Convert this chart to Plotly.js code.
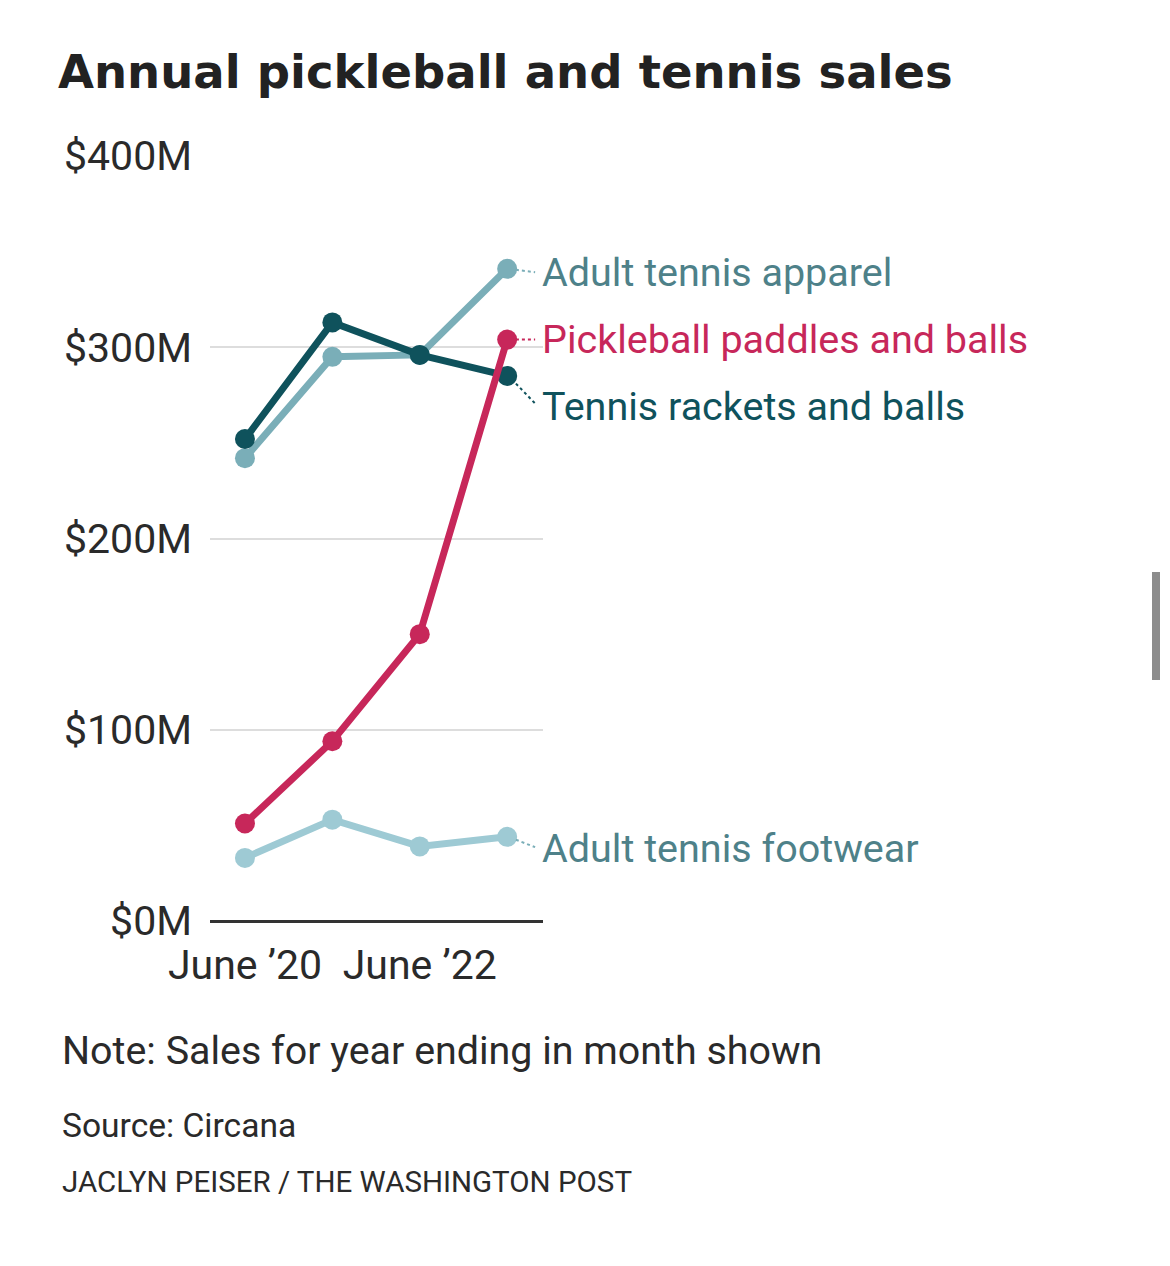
<!DOCTYPE html>
<html>
<head>
<meta charset="utf-8">
<script src="https://cdn.plot.ly/plotly-3.0.1.min.js"></script>
<style>
html,body{margin:0;padding:0;background:#fff;}
#chart{width:1170px;height:1266px;}
</style>
</head>
<body>
<div id="chart"></div>
<script>
const periods = ["June ’20", "June ’21", "June ’22", "June ’23"];
const tickLabels = ["June ’20", "June ’22"];
const yTicks = [0, 100, 200, 300, 400];

const seriesNames = ["Adult tennis footwear", "Adult tennis apparel", "Tennis rackets and balls", "Pickleball paddles and balls"];
const footwear = [33, 53, 39, 44];
const apparel = [242, 295, 296, 341];
const rackets = [252, 313, 296, 285];
const pickleball = [51, 94, 150, 304];

const lineColors = ["#9ecad4", "#7aaeb8", "#0f525c", "#c7275a"];
const leaderColors = ["#7aaeb8", "#7aaeb8", "#0f525c", "#c7275a"];
const labelColors = ["#4e8189", "#4e8189", "#0f525c", "#c7275a"];
const labelY = [38, 339, 269, 304];

const values = [footwear, apparel, rackets, pickleball];

const traces = values.map((v, i) => ({
  type: "scatter",
  mode: "lines+markers",
  x: periods,
  y: v,
  name: seriesNames[i],
  line: {color: lineColors[i], width: 7},
  marker: {color: lineColors[i], size: 20},
  hoverinfo: "skip"
}));

const textFont = "Roboto, sans-serif";
const last = periods.length - 1;
const annotations = values.map((v, i) => ({
  xref: "x", yref: "y",
  x: 3.41, y: labelY[i], xshift: -3,
  text: seriesNames[i],
  showarrow: false,
  xanchor: "left", yanchor: "middle",
  font: {family: textFont, size: 39.5, color: labelColors[i]}
}));

const shapes = values.map((v, i) => ({
  type: "line",
  xref: "x", yref: "y",
  x0: 3.1, y0: v[last] + (labelY[i] - v[last]) * 0.25,
  x1: 3.32, y1: labelY[i] - (labelY[i] - v[last]) * 0.1,
  line: {color: leaderColors[i], width: 2, dash: "dot"}
}));

shapes.push({
  type: "rect", xref: "paper", yref: "paper",
  x0: (1152 - 210) / 333, x1: (1160 - 210) / 333,
  y0: (921 - 680) / 765, y1: (921 - 572) / 765,
  fillcolor: "#8c8c8c", line: {width: 0}
});

annotations.push(
  {xref: "paper", yref: "paper", x: (60 - 210) / 333, y: (921 - 1050) / 765, xanchor: "left", yanchor: "middle",
   text: "Note: Sales for year ending in month shown", showarrow: false,
   font: {family: textFont, size: 39.4, color: "#2a2a2a"}},
  {xref: "paper", yref: "paper", x: (60 - 210) / 333, y: (921 - 1125) / 765, xanchor: "left", yanchor: "middle",
   text: "Source: Circana", showarrow: false,
   font: {family: textFont, size: 33.6, color: "#2a2a2a"}},
  {xref: "paper", yref: "paper", x: (60 - 210) / 333, y: (921 - 1182) / 765, xanchor: "left", yanchor: "middle",
   text: "JACLYN PEISER / THE WASHINGTON POST", showarrow: false,
   font: {family: textFont, size: 29.5, color: "#2a2a2a"}}
);

const layout = {
  width: 1170, height: 1266,
  margin: {l: 210, r: 627, t: 156, b: 345},
  paper_bgcolor: "#ffffff", plot_bgcolor: "#ffffff",
  showlegend: false,
  title: {
    text: "<b>Annual pickleball and tennis sales</b>",
    x: 58 / 1170, xanchor: "left", xref: "container",
    y: 1 - 72 / 1266, yanchor: "middle", yref: "container",
    font: {family: "DejaVu Sans, sans-serif", size: 46.5, color: "#222222"}
  },
  xaxis: {
    type: "category",
    range: [-0.4, 3.41],
    tickvals: tickLabels, ticktext: tickLabels,
    showgrid: false, zeroline: false, showline: false, ticks: "",
    ticklabelstandoff: 16,
    tickfont: {family: textFont, size: 41, color: "#2a2a2a"},
    fixedrange: true
  },
  yaxis: {
    range: [0, 400],
    tickvals: yTicks,
    ticktext: yTicks.map(t => "$" + t + "M"),
    showgrid: true, gridcolor: "#dddddd", gridwidth: 2,
    zeroline: true, zerolinecolor: "#333333", zerolinewidth: 3,
    showline: false, ticks: "",
    ticklabelstandoff: 17,
    tickfont: {family: textFont, size: 41, color: "#2a2a2a"},
    fixedrange: true
  },
  annotations: annotations,
  shapes: shapes
};

Plotly.newPlot("chart", traces, layout, {displayModeBar: false, staticPlot: true});
</script>
</body>
</html>
